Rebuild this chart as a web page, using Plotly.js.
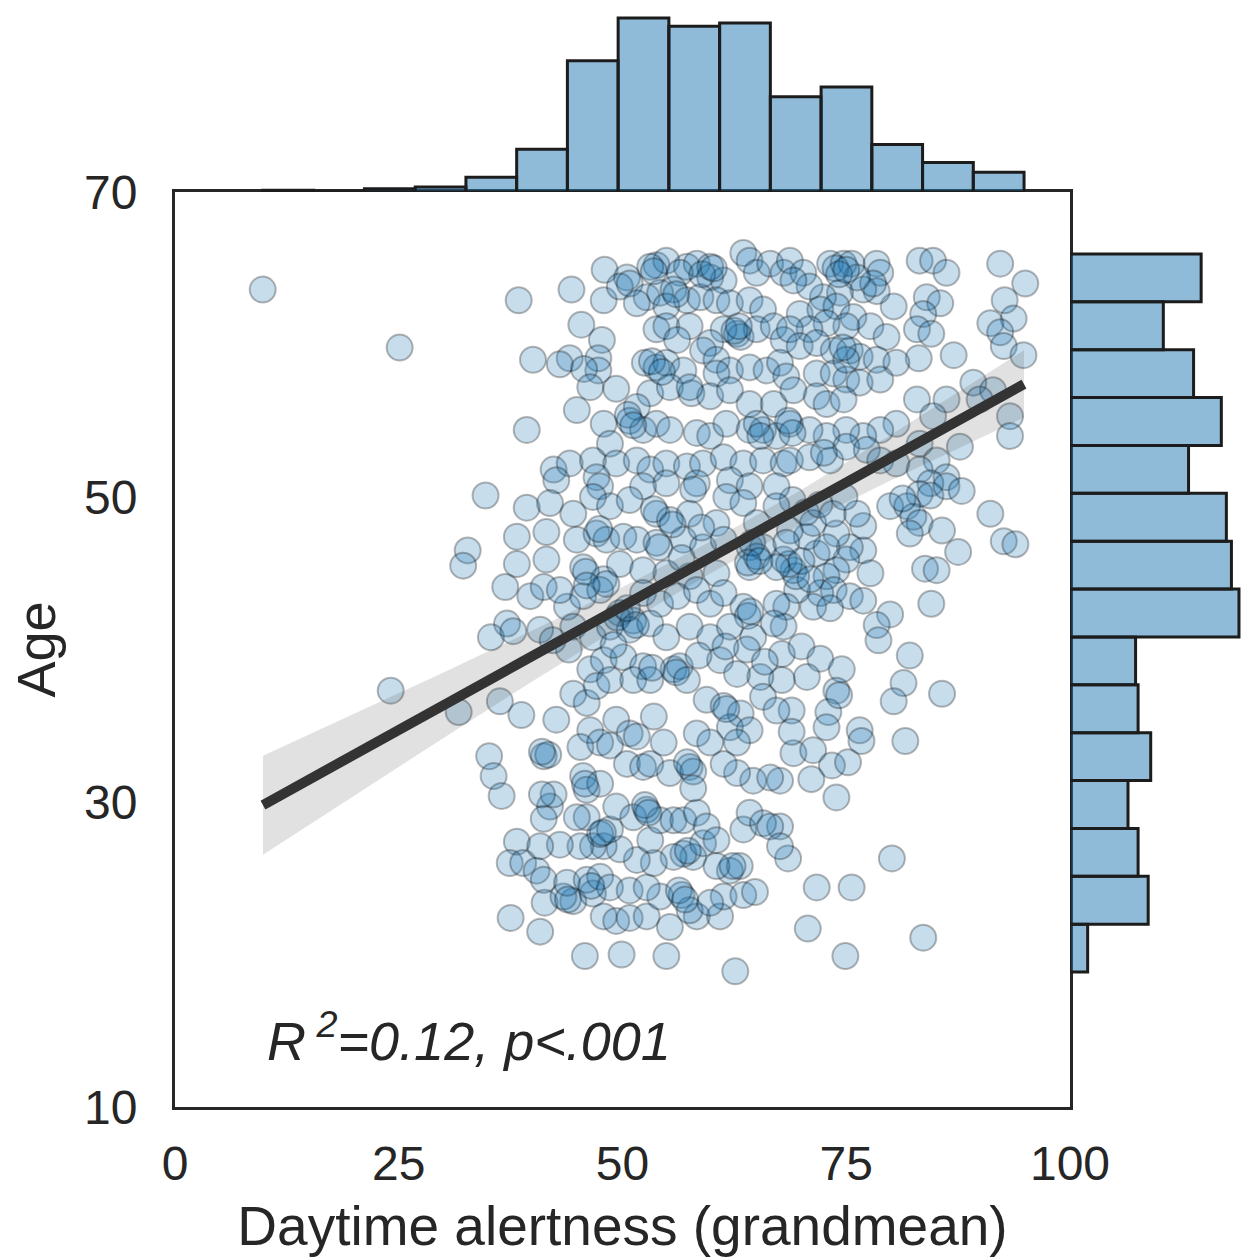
<!DOCTYPE html>
<html><head><meta charset="utf-8">
<script src="https://cdn.plot.ly/plotly-3.0.1.min.js"></script>
<style>html,body{margin:0;padding:0;background:#fff}#chart{width:1241px;height:1257px}</style>
</head><body><div id="chart"></div>
<script>
// ---- scatter data: daytime alertness (grand mean) vs age ----
const alertness = [
 9.8,25.1,38.4,40.0,39.3,34.7,32.7,32.2,38.2,36.9,37.1,35.3,37.8,24.1,31.7,36.3,38.7,35.1,35.6,36.5,38.2,37.4,37.5,38.2,39.7,
 48.0,53.8,54.9,57.2,58.3,59.8,61.3,63.5,64.2,65.0,66.5,68.0,50.5,53.1,56.4,59.8,
 44.3,47.9,49.7,50.8,52.7,54.2,55.7,57.2,58.7,60.5,62.0,64.2,65.7,51.6,54.9,
 45.4,47.7,53.8,54.9,57.5,62.8,63.2,61.3,65.0,66.9,68.0,59.8,56.1,
 44.1,47.3,47.3,52.5,53.8,54.9,56.8,59.0,60.5,62.0,64.2,66.1,67.6,60.5,43.0,45.7,
 46.4,49.3,53.1,55.3,57.7,59.8,62.0,64.2,66.9,44.9,51.6,
 47.9,50.8,52.3,53.8,55.3,58.3,59.8,61.6,64.2,65.7,67.2,48.6,
 42.3,44.1,46.7,49.3,51.6,53.1,54.9,57.2,59.0,61.3,63.5,65.7,68.0,47.1,58.3,62.0,
 56.0,62.5,63.0,53.3,54.4,57.5,58.9,50.6,51.2,65.0,65.4,60.2,53.5,
 68.7,70.2,73.2,74.7,75.6,78.4,78.8,83.2,84.7,86.2,
 92.2,95.0,92.7,93.7,91.1,92.2,92.6,94.8,84.0,85.5,
 83.6,82.9,84.5,83.1,87.0,80.3,78.4,76.9,78.0,76.2,
 74.3,72.4,70.9,69.1,69.8,72.1,73.9,75.8,77.7,79.5,
 75.0,72.8,70.9,68.7,69.8,71.7,73.6,75.4,76.5,78.4,
 80.6,68.3,71.7,73.6,75.0,76.5,78.8,69.1,71.7,72.8,
 74.7,82.9,86.2,84.7,89.2,91.4,89.9,93.3,93.3,87.7,
 80.6,83.2,85.1,86.2,78.8,76.9,75.0,72.8,70.9,68.7,
 68.7,70.9,73.2,75.0,77.3,78.8,80.6,83.2,84.4,
 73.8,74.2,75.0,75.0,74.6,68.5,69.0,72.5,
 83.2,84.4,86.2,87.9,91.1,92.6,93.9,79.9,81.8,82.5,
 83.2,82.1,85.7,87.5,83.8,85.1,84.5,79.9,78.4,78.6,
 82.1,81.4,85.7,80.3,76.5,81.6,76.9,76.9,77.7,75.4,
 75.0,73.9,72.8,73.6,75.4,76.9,72.1,71.3,73.2,69.5,
 69.1,68.0,71.7,70.6,73.9,72.8,68.7,71.3,76.2,68.3,
 68.0,67.8,70.0,72.1,74.5,70.6,73.9,73.0,68.9,72.8,67.8,
 81.3,69.4,74.2,68.6,69.0,70.5,72.0,73.5,74.8,70.0,71.0,
 69.1,71.3,73.4,75.2,71.1,73.9,76.7,80.1,68.5,71.7,75.6,70.7,74.9,83.6,67.6,67.6,68.9,
 42.6,47.5,52.3,54.9,57.9,61.6,64.2,67.2,
 39.3,41.9,44.5,46.7,48.6,50.8,53.8,55.3,57.5,60.5,63.5,65.0,67.2,
 41.5,44.9,47.1,48.2,50.1,51.6,53.8,56.8,59.0,61.3,64.2,65.7,68.3,
 41.5,45.6,47.9,49.7,52.3,54.9,57.5,60.5,64.2,65.0,67.2,
 41.2,43.8,45.6,47.5,49.7,51.2,52.3,54.2,56.1,58.3,59.8,61.3,63.5,64.0,67.2,
 40.8,44.5,46.7,48.6,50.8,53.1,54.9,57.5,59.8,62.0,64.6,66.9,
 46.4,47.9,50.1,52.3,55.7,56.4,60.9,62.8,65.4,
 44.5,46.0,47.1,48.6,51.2,53.1,59.4,61.3,63.2,65.7,67.2,
 42.6,49.3,53.5,46.4,50.8,58.3,62.0,64.2,
 53.5,55.6,47.4,54.1,64.5,45.9,48.2,64.0,65.3,49.4,51.5,64.3,56.0,61.6,50.5,46.0,63.9,65.9,61.5,58.5,57.2,53.3,49.0,44.0,42.2,43.0,56.6,58.8,
 40.8,45.8,49.9,54.9,62.6,
 41.3,44.5,46.7,47.9,49.3,50.8,52.7,55.3,54.2,56.6,58.3,60.9,61.3,63.5,64.8,43.4,57.5,59.8,38.9,40.4,
 41.2,43.8,46.0,47.5,48.6,50.8,52.7,62.0,63.1,60.5,57.9,56.8,59.0,55.7,53.5,51.6,49.7,47.9,46.7,45.3,43.0,40.8,
 47.5,48.6,46.0,41.9,41.2,42.3,41.0,44.9,49.3,51.2,52.7,53.1,54.2,55.7,56.8,58.3,59.4,60.5,63.5,64.2,65.7,66.5,67.6,64.6,62.8,61.3,
 66.5,41.2,41.7,45.6,46.0,47.5,45.3,47.5,48.6,50.5,52.3,53.1,51.6,54.6,55.3,57.5,57.9,57.9,59.8,62.8,
 41.0,45.8,52.5,52.9,57.2,47.8,57.3,62.3,56.3,57.0,43.9,46.5
];
const age = [
 63.6,59.8,62.9,59.0,54.4,50.1,46.5,45.5,45.6,44.1,41.7,40.8,41.2,37.3,35.9,36.6,35.7,33.0,31.7,30.4,27.4,26.0,22.4,47.4,43.5,
 64.9,65.2,65.5,65.1,65.3,64.4,64.2,66.0,65.5,64.7,65.3,64.7,64.4,65.1,64.7,65.1,
 63.6,62.9,63.8,64.0,63.1,63.4,63.6,62.9,63.1,62.9,62.7,62.9,62.3,62.7,62.5,
 61.3,60.3,61.0,61.2,61.2,60.7,60.5,61.0,61.0,61.2,60.3,60.1,60.3,
 59.1,59.1,58.3,58.8,58.5,58.8,58.3,59.6,59.0,58.3,58.5,58.3,58.8,58.1,58.7,58.4,
 57.2,57.1,56.8,57.2,56.8,56.6,57.0,56.1,56.1,55.7,55.9,
 54.8,55.0,54.4,54.8,54.4,54.2,54.0,54.8,54.4,54.4,54.0,53.5,
 51.8,52.2,52.4,52.2,52.4,51.8,52.2,52.0,52.2,52.6,52.2,52.4,52.2,51.3,50.9,51.1,
 63.3,60.9,61.2,58.9,58.2,57.2,64.6,55.4,54.7,54.8,54.0,65.0,64.8,
 65.5,64.7,65.3,65.3,65.3,65.3,64.7,65.5,65.5,64.7,
 65.3,64.0,62.9,61.7,61.4,60.8,59.9,59.3,63.1,62.7,
 62.0,61.0,60.7,59.1,59.3,62.5,63.5,63.6,64.0,64.4,
 63.4,63.1,63.8,64.2,62.0,62.3,62.5,61.8,61.2,60.5,
 61.2,61.4,61.0,61.0,59.9,60.1,59.6,59.6,59.2,59.0,
 58.8,57.9,58.1,58.1,57.7,57.5,57.7,57.0,56.6,56.1,
 56.4,56.4,56.4,55.3,57.5,57.0,56.4,55.3,54.0,53.3,
 54.8,53.5,52.4,51.3,54.4,54.0,54.4,54.0,54.4,54.8,
 52.4,52.6,52.4,53.3,53.1,52.4,52.2,51.8,50.9,
 65.0,64.6,64.9,59.0,59.8,55.0,54.2,52.9,
 50.2,50.1,50.7,50.4,48.9,47.1,46.9,49.4,49.4,48.7,
 48.3,47.6,47.8,46.4,45.3,45.2,43.0,42.3,41.6,40.6,
 39.6,37.8,37.1,36.6,34.7,34.0,48.1,46.5,45.0,46.7,
 45.9,45.2,44.8,43.9,43.5,43.2,43.7,42.8,42.7,43.9,
 45.2,45.9,46.3,47.4,47.6,46.7,47.8,48.3,48.9,42.8,
 41.5,39.7,40.2,39.4,38.7,38.2,37.3,35.9,36.0,34.9,38.0,
 49.9,44.8,37.0,45.6,49.8,49.0,49.5,48.9,50.0,45.8,44.6,
 33.2,33.4,32.4,32.6,31.5,30.3,34.0,26.3,26.3,24.4,24.4,21.7,19.9,21.1,28.4,31.4,34.6,
 51.1,50.7,50.7,50.9,50.5,50.0,50.7,50.7,
 49.3,49.6,48.9,50.0,49.4,49.8,48.9,48.5,48.9,48.3,49.6,48.3,49.4,
 47.7,47.2,47.6,47.2,47.4,47.2,47.0,47.2,46.7,47.2,46.7,46.7,47.0,
 45.9,45.4,44.6,45.6,45.2,45.0,44.8,45.0,45.4,46.1,45.4,
 44.1,42.8,43.5,43.9,42.4,41.9,43.7,43.0,43.5,43.9,43.0,43.7,42.8,42.2,43.0,
 41.3,41.5,40.8,41.5,41.3,41.7,40.8,41.5,40.8,41.5,40.8,41.7,
 38.7,39.3,39.5,38.9,38.7,38.9,39.3,38.4,38.2,
 37.1,36.5,37.6,38.0,38.0,38.0,36.7,36.3,35.8,36.9,36.0,
 35.4,35.4,35.6,34.7,34.5,34.5,34.9,34.7,
 49.2,48.2,47.9,46.7,47.0,45.1,44.3,45.7,45.8,42.1,41.6,42.5,38.5,36.1,42.7,44.2,40.0,39.2,40.2,39.6,38.0,38.8,40.3,40.0,40.6,43.9,46.0,48.0,
 21.5,19.9,20.0,19.9,18.9,
 23.4,23.5,24.0,22.5,22.2,22.4,22.5,21.8,23.8,23.9,22.5,22.5,23.8,23.9,24.1,23.8,22.9,23.4,26.0,25.5,
 24.9,24.7,24.9,25.1,24.4,24.2,24.4,25.5,25.8,25.8,26.4,26.6,27.3,26.4,26.0,26.2,26.9,27.1,27.1,27.1,27.2,27.1,
 27.9,28.2,29.0,29.7,28.9,30.5,30.5,29.0,29.7,29.0,29.5,27.5,28.8,28.8,28.8,29.3,28.4,27.5,28.2,29.3,28.6,28.4,27.1,31.4,31.9,32.5,
 31.6,33.0,33.1,31.7,30.8,31.2,33.6,33.9,33.7,32.5,32.3,32.5,34.3,33.9,31.9,32.3,32.0,30.9,33.9,33.9,
 33.3,31.2,29.8,29.3,32.6,28.0,26.8,25.8,24.2,23.6,23.6,24.5
];

// ---- marginal histograms (counts per bin) ----
const alertnessBinStart = 9.83;
const alertnessBinWidth = 5.669;
const alertnessCounts = [1, 0, 2, 3, 9, 26, 80, 106, 101, 103, 58, 64, 29, 18, 12];

const ageBinStart = 18.85;
const ageBinWidth = 3.139;
const ageCounts = [7, 31, 27, 23, 32, 27, 26, 67, 64, 62, 47, 60, 49, 37, 52]; // bottom to top

// ---- regression fit and 95% CI band ----
const fitX = [9.83, 94.86];
const fitY = [29.8, 57.4];
const bandX  = [9.83, 20, 30, 40, 50, 60, 70, 80, 90, 94.86];
const bandHi = [33.04, 35.79, 38.50, 41.26, 44.10, 47.13, 50.48, 54.08, 57.78, 59.62];
const bandLo = [26.54, 30.41, 34.20, 37.94, 41.58, 45.05, 48.20, 51.10, 53.88, 55.22];

// ---- axis ticks ----
const xTicks = [0, 25, 50, 75, 100];
const yTicks = [10, 30, 50, 70];

const annotationText = 'R<sup> 2</sup>=0.12, p&lt;.001';

// ---------------------------------------------------------------
const W = 1241, H = 1257;
const xDom = [175 / W, 1070 / W];
const yDom = [(H - 1107) / H, (H - 192) / H];
const ink = '#262626';
const FONT = 'Liberation Sans, Arial, Helvetica, sans-serif';

const alertnessCenters = alertnessCounts.map((_, i) => alertnessBinStart + alertnessBinWidth * (i + 0.5));
const ageCenters = ageCounts.map((_, i) => ageBinStart + ageBinWidth * (i + 0.5));

const traces = [
  {
    type: 'scatter', mode: 'markers', x: alertness, y: age, xaxis: 'x', yaxis: 'y',
    marker: { size: 26, color: 'rgba(31,119,180,0.25)', line: { color: 'rgba(0,0,0,0.28)', width: 2 } },
    hoverinfo: 'skip'
  },
  {
    type: 'scatter', mode: 'lines', x: bandX.concat(bandX.slice().reverse()),
    y: bandHi.concat(bandLo.slice().reverse()), fill: 'toself',
    fillcolor: 'rgba(51,51,51,0.15)', line: { width: 0 }, xaxis: 'x', yaxis: 'y', hoverinfo: 'skip'
  },
  {
    type: 'scatter', mode: 'lines', x: fitX, y: fitY, xaxis: 'x', yaxis: 'y',
    line: { color: '#333333', width: 10 }, hoverinfo: 'skip'
  },
  {
    type: 'bar', x: alertnessCenters, y: alertnessCounts, width: alertnessBinWidth,
    xaxis: 'x2', yaxis: 'y2',
    marker: { color: 'rgba(31,119,180,0.5)', line: { color: '#1c1c1c', width: 3 } }, hoverinfo: 'skip'
  },
  {
    type: 'bar', orientation: 'h', y: ageCenters, x: ageCounts, width: ageBinWidth,
    xaxis: 'x3', yaxis: 'y3',
    marker: { color: 'rgba(31,119,180,0.5)', line: { color: '#1c1c1c', width: 3 } }, hoverinfo: 'skip'
  }
];

const hidden = { visible: false, showgrid: false, zeroline: false, fixedrange: true };

const layout = {
  width: W, height: H,
  margin: { l: 0, r: 0, t: 0, b: 0 },
  paper_bgcolor: '#ffffff', plot_bgcolor: 'rgba(0,0,0,0)',
  showlegend: false,
  font: { family: FONT, color: ink },
  xaxis: {
    domain: xDom, range: [0, 100], anchor: 'y',
    tickvals: xTicks, ticktext: xTicks.map(String),
    showline: true, mirror: true, linecolor: ink, linewidth: 3,
    showgrid: false, zeroline: false, ticks: '',
    ticklabelstandoff: 12,
    tickfont: { size: 48, color: ink, family: FONT },
    title: { text: 'Daytime alertness (grandmean)', font: { size: 55, color: ink, family: FONT }, standoff: 20 },
    automargin: false
  },
  yaxis: {
    domain: yDom, range: [10, 70], anchor: 'x',
    tickvals: yTicks, ticktext: yTicks.map(String),
    showline: true, mirror: true, linecolor: ink, linewidth: 3,
    showgrid: false, zeroline: false, ticks: '',
    ticklabelstandoff: 25,
    tickfont: { size: 48, color: ink, family: FONT },
    title: { text: 'Age', font: { size: 54, color: ink, family: FONT }, standoff: 12 },
    automargin: false
  },
  xaxis2: Object.assign({}, hidden, { domain: xDom, range: [0, 100], anchor: 'y2' }),
  yaxis2: Object.assign({}, hidden, { domain: [yDom[1], 1], range: [0, 117], anchor: 'x2' }),
  xaxis3: Object.assign({}, hidden, { domain: [xDom[1], 1], range: [0, 67.8], anchor: 'y3' }),
  yaxis3: Object.assign({}, hidden, { domain: yDom, range: [10, 70], anchor: 'x3' }),
  annotations: [{
    text: annotationText, xref: 'x domain', yref: 'y domain', x: 0.1, y: 0.037,
    xanchor: 'left', yanchor: 'bottom', showarrow: false,
    font: { size: 54, color: ink, family: FONT, style: 'italic' }
  }]
};

Plotly.newPlot('chart', traces, layout, { staticPlot: true, displayModeBar: false });
</script>
</body></html>
